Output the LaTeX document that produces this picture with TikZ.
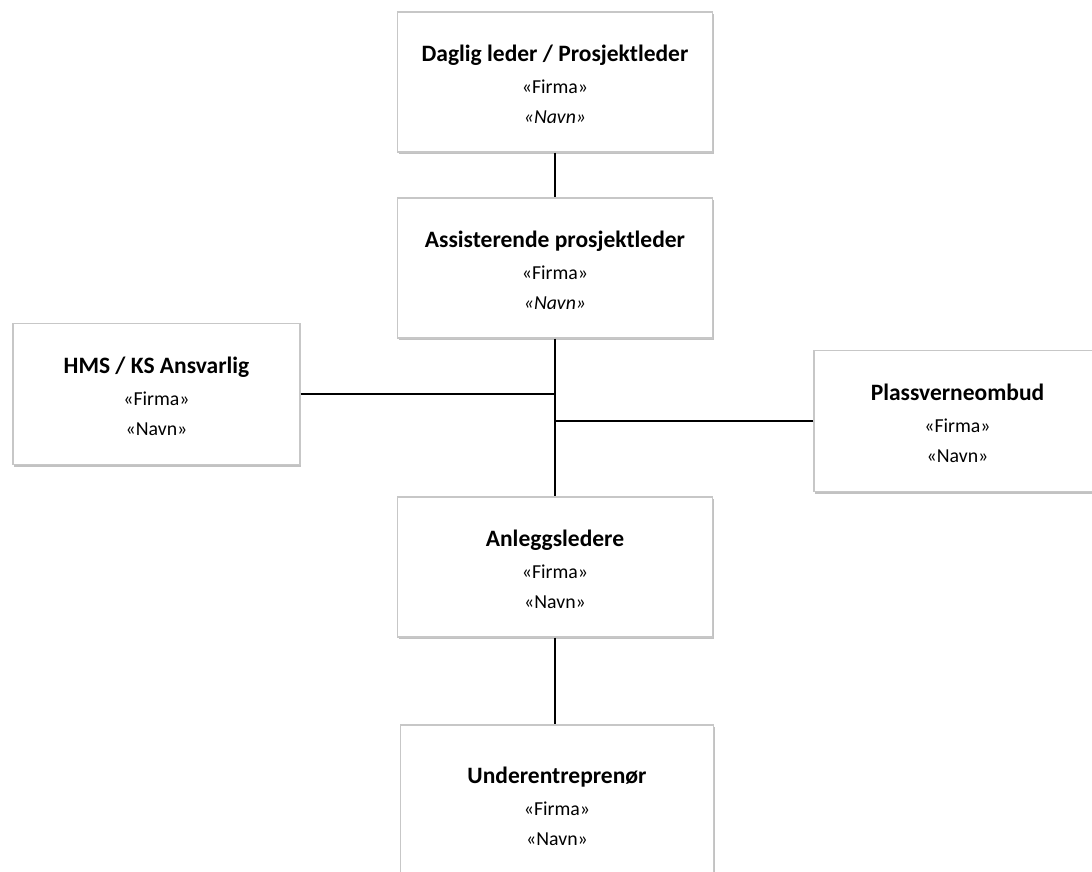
\documentclass[tikz,border=0pt]{standalone}
\usepackage{fontspec}
\setmainfont{Carlito}
\usetikzlibrary{shadows}
\tikzset{
    orgbox/.style={draw=black!22, line width=1.3pt, fill=white,
        minimum width=315pt, minimum height=140pt, align=center,
        inner sep=0pt,
        font=\fontsize{19.8pt}{30.5pt}\selectfont,
        drop shadow={shadow xshift=1.2pt, shadow yshift=-2.2pt, opacity=0.4, fill=black!60}},
    sidebox/.style={orgbox, minimum width=287pt, minimum height=141pt},
    link/.style={line width=1.8pt}
}
\newcommand{\rolle}[1]{{\fontsize{23.5pt}{30.5pt}\selectfont\bfseries\rule{0pt}{22pt}#1}}
\begin{document}
\begin{tikzpicture}[x=1pt,y=-1pt]
        \useasboundingbox (0,0) rectangle (1092,872);
        \clip (0,0) rectangle (1092,872);
        %% main column
        \node[orgbox] (dl) at (555,82) {\rolle{Daglig leder / Prosjektleder}\\[1pt]«Firma»\\\textit{«Navn»}};
        \node[orgbox] (ap) at (555,268) {\rolle{Assisterende prosjektleder}\\[1pt]«Firma»\\\textit{«Navn»}};
        \node[orgbox] (al) at (555,567) {\rolle{Anleggsledere}\\[1pt]«Firma»\\«Navn»};
        \node[orgbox, minimum width=313pt, minimum height=158pt] (ue) at (557,804) {\rolle{Underentreprenør}\\[1pt]«Firma»\\«Navn»};
        %% side boxes
        \node[sidebox] (hms) at (156.5,394) {\rolle{HMS / KS Ansvarlig}\\[1pt]«Firma»\\«Navn»};
        \node[sidebox] (pvo) at (957.5,421) {\rolle{Plassverneombud}\\[1pt]«Firma»\\«Navn»};
        %% connectors
        \draw[link] (dl.south) -- (ap.north);
        \draw[link] (ap.south) -- (al.north);
        \draw[link] (al.south) -- (al.south |- ue.north);
        \draw[link] (hms.east) -- (hms.east -| ap.south);
        \draw[link] (pvo.west) -- (pvo.west -| ap.south);
    \end{tikzpicture}
\end{document}
